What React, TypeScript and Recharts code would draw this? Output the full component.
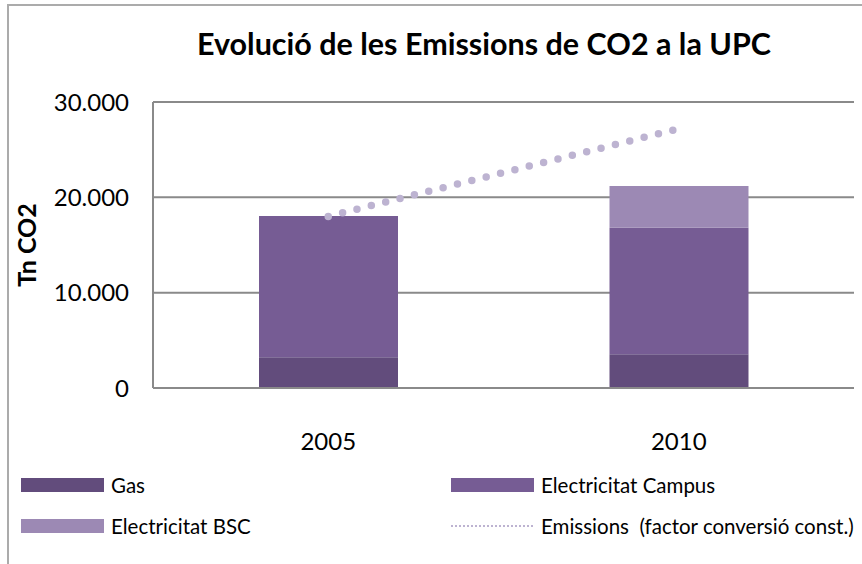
import { ComposedChart, Bar, Line, XAxis, YAxis, CartesianGrid, Legend, Label } from 'recharts';

const years = ['2005', '2010'];
const gas = [3220, 3540];
const campus = [14830, 13280];
const bsc = [0, 4380];
const emissions = [18000, 27200];
const yTicks = [0, 10000, 20000, 30000];

const COLORS = {
  gas: '#624c7c',
  campus: '#765c94',
  bsc: '#9c89b4',
  emissions: '#bdb3d1',
};

const FONT = 'Lato, "Open Sans", sans-serif';

const data = years.map((year, i) => ({
  year,
  gas: gas[i],
  campus: campus[i],
  bsc: bsc[i],
  emissions: emissions[i],
}));

const fmt = (v: number) => String(v).replace(/\B(?=(\d{3})+(?!\d))/g, '.');

const legendItems = [
  { key: 'gas', label: 'Gas', type: 'rect', color: COLORS.gas },
  { key: 'campus', label: 'Electricitat Campus', type: 'rect', color: COLORS.campus },
  { key: 'bsc', label: 'Electricitat BSC', type: 'rect', color: COLORS.bsc },
  { key: 'emissions', label: 'Emissions  (factor conversió const.)', type: 'line', color: COLORS.emissions },
];

const renderLegend = () => (
  <div style={{ display: 'flex', flexWrap: 'wrap', width: 862, fontFamily: FONT, fontSize: 20.5, color: '#000' }}>
    {legendItems.map((it) => (
      <div key={it.key} style={{ width: 430, height: 41, display: 'flex', alignItems: 'center', paddingLeft: 21, boxSizing: 'border-box' }}>
        <svg width={83} height={14} style={{ marginRight: 7, flex: 'none' }}>
          {it.type === 'rect' ? (
            <rect x={0} y={0} width={83} height={14} fill={it.color} />
          ) : (
            <line x1={0} y1={7} x2={83} y2={7} stroke={it.color} strokeWidth={2} strokeDasharray="2 2" />
          )}
        </svg>
        <span style={{ whiteSpace: 'pre' }}>{it.label}</span>
      </div>
    ))}
  </div>
);

export default function App() {
  return (
    <div style={{ position: 'absolute', left: 0, top: 0, width: 862, height: 564, background: '#fff', overflow: 'hidden' }}>
      <div style={{ position: 'absolute', left: 7, top: 4, width: 900, height: 600, border: '2px solid #ababab' }} />
      <div
        style={{
          position: 'absolute', left: 0, top: 25, width: 968, textAlign: 'center',
          fontFamily: FONT, fontWeight: 'bold', fontSize: 30.5, color: '#000',
        }}
      >
        Evolució de les Emissions de CO2 a la UPC
      </div>
      <div style={{ position: 'absolute', left: 0, top: 0 }}>
        <ComposedChart
          width={862}
          height={564}
          data={data}
          margin={{ top: 102, right: 8, left: 93, bottom: 116 }}
          barCategoryGap="30%"
        >
          <CartesianGrid vertical={false} stroke="#8a8a8a" strokeWidth={2} />
          <XAxis
            dataKey="year"
            height={60}
            axisLine={{ stroke: '#8a8a8a', strokeWidth: 2 }}
            tickLine={false}
            tickSize={0}
            tickMargin={45}
            tick={{ fontFamily: FONT, fontSize: 24, fill: '#000' }}
          />
          <YAxis
            width={60}
            domain={[0, 30000]}
            ticks={yTicks}
            tickFormatter={fmt}
            axisLine={{ stroke: '#8a8a8a', strokeWidth: 2 }}
            tickLine={false}
            tickSize={0}
            tickMargin={24}
            tick={{ fontFamily: FONT, fontSize: 24, fill: '#000' }}
          >
            <Label
              content={() => (
                <text
                  x={26}
                  y={245}
                  transform="rotate(-90, 26, 245)"
                  textAnchor="middle"
                  dominantBaseline="central"
                  style={{ fontFamily: FONT, fontWeight: 'bold', fontSize: 25, fill: '#000' }}
                >
                  Tn CO2
                </text>
              )}
            />
          </YAxis>
          <Legend
            verticalAlign="middle"
            align="center"
            layout="horizontal"
            content={renderLegend}
            wrapperStyle={{ position: 'absolute', top: 464, left: 0, width: 862 }}
          />
          <Bar dataKey="gas" stackId="a" fill={COLORS.gas} barSize={139} isAnimationActive={false} />
          <Bar dataKey="campus" stackId="a" fill={COLORS.campus} barSize={139} isAnimationActive={false} />
          <Bar dataKey="bsc" stackId="a" fill={COLORS.bsc} barSize={139} isAnimationActive={false} />
          <Line
            dataKey="emissions"
            stroke={COLORS.emissions}
            strokeWidth={7.5}
            strokeDasharray="0 14.8"
            strokeLinecap="round"
            dot={false}
            activeDot={false}
            isAnimationActive={false}
          />
        </ComposedChart>
      </div>
    </div>
  );
}
